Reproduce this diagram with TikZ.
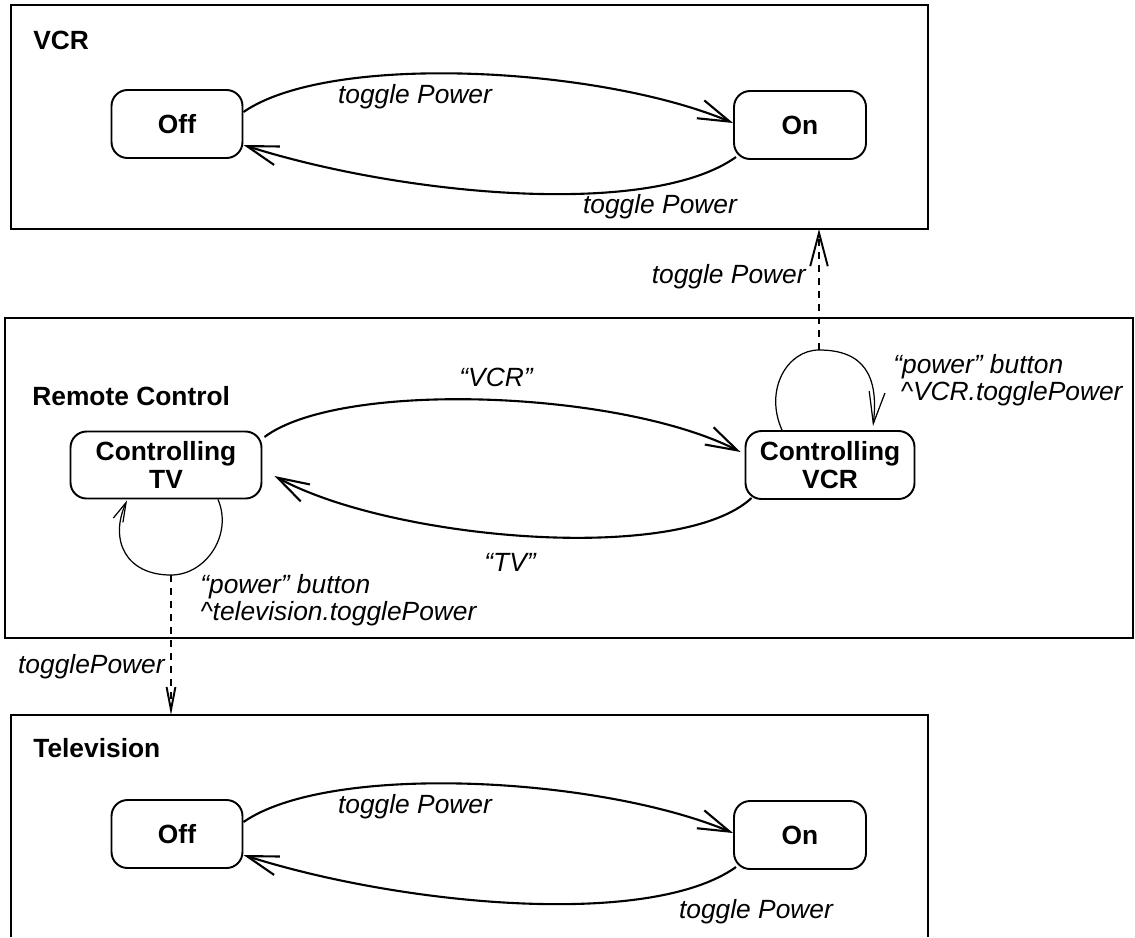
\documentclass[tikz,border=0pt]{standalone}
\usepackage{fontspec}
\setmainfont{Liberation Sans}
\usetikzlibrary{arrows.meta, calc, positioning}

\begin{document}
\begin{tikzpicture}[x=0.02cm, y=-0.02cm,
    state/.style={draw, line width=1.1pt, rounded corners=0.32cm, minimum height=1.36cm, inner sep=0pt, align=center, font=\bfseries\fontsize{15}{16}\selectfont},
    boxname/.style={anchor=west, inner sep=0pt, font=\bfseries\fontsize{15}{18}\selectfont},
    lbl/.style={inner sep=0pt, font=\itshape\fontsize{15}{15}\selectfont},
    trans/.style={line width=1.2pt, -{Straight Barb[length=18pt,width=11pt]}},
    selfloop/.style={line width=0.7pt},
    event/.style={dash pattern=on 4pt off 3.4pt, line width=1.1pt}]
    \useasboundingbox (0,0) rectangle (1135,937);

    \draw[line width=1.4pt] (11,5) rectangle (928,229);
    \draw[line width=1.4pt] (5,318) rectangle (1133,638);
    \draw[line width=1.4pt] (11,937) -- (11,715) -- (928,715) -- (928,937);

    \node[boxname] (vcrname) at (33,40) {VCR};
    \node[boxname] (remotename) at (32,396) {Remote Control};
    \node[boxname] (tvname) at (33,748) {Television};

    \node[state, minimum width=2.62cm] (vcroff) at (177,124) {Off};
    \node[state, minimum width=2.64cm] (vcron) at (800,125) {On};
    \node[state, minimum width=3.82cm, minimum height=1.34cm] (tvctl) at (166,465) {Controlling\\TV};
    \node[state, minimum width=3.38cm] (vcrctl) at (830,465) {Controlling\\VCR};
    \node[state, minimum width=2.62cm] (tvoff) at (177,834) {Off};
    \node[state, minimum width=2.64cm] (tvon) at (800,835) {On};

    \draw[trans] ($(vcroff.east)+(0,-12)$) .. controls +(87,-60) and +(-133,-56) .. ($(vcron.west)+(0,-2)$);
    \draw[trans] ($(vcron.west)+(3,32)$) .. controls +(-87,62) and +(157,50) .. ($(vcroff.east)+(0,21)$);
    \node[lbl] (vcrup) at (415,97) {toggle Power};
    \node[lbl] (vcrdown) at (660,207) {toggle Power};

    \draw[trans] ($(tvoff.east)+(0,-12)$) .. controls +(87,-60) and +(-133,-56) .. ($(tvon.west)+(0,-2)$);
    \draw[trans] ($(tvon.west)+(3,32)$) .. controls +(-87,62) and +(157,50) .. ($(tvoff.east)+(0,21)$);
    \node[lbl] (tvup) at (415,807) {toggle Power};
    \node[lbl] (tvdown) at (756,912) {toggle Power};

    \draw[trans] ($(tvctl.east)+(2,-28)$) .. controls +(76,-57) and +(-121,-62) .. ($(vcrctl.west)+(-4,-13)$);
    \draw[trans] ($(vcrctl.west)+(7,33)$) .. controls +(-72,67) and +(117,64) .. ($(tvctl.east)+(12,11)$);
    \node[lbl] (vcrsel) at (496,377) {“VCR”};
    \node[lbl] (tvsel) at (510,562) {“TV”};

    \coordinate (vcrtop) at (819,350);
    \coordinate (tvbot) at (171,575);
    \draw[selfloop, -{Straight Barb[length=18pt,width=9pt]}] ($(vcrctl.north)+(-48,0)$) .. controls +(-18,-40) and +(-32,0) .. (vcrtop) .. controls +(45,0) and +(6,-50) .. ($(vcrctl.north)+(43,-4)$);
    \draw[selfloop, -{Straight Barb[length=11pt,width=6pt]}] ($(tvctl.south)+(52,0)$) .. controls +(15,35) and +(35,0) .. (tvbot) .. controls +(-45,0) and +(-18,40) .. ($(tvctl.south)+(-39,1)$);
    \node[lbl, anchor=west, align=left] (vcraction) at (893,380) {“power” button\\\ \textasciicircum VCR.togglePower};
    \node[lbl, anchor=west, align=left] (tvaction) at (200,600) {“power” button\\\textasciicircum television.togglePower};

    \coordinate (vcrbox) at (819,229);
    \coordinate (tvbox) at (171,715);
    \draw[event, -{Straight Barb[length=19pt,width=10pt]}] (vcrtop) -- (vcrbox);
    \draw[event, -{Straight Barb[length=13pt,width=5pt]}] (tvbot) -- (tvbox);
    \node[lbl, anchor=east] (vcrevent) at (806,277) {toggle Power};
    \node[lbl, anchor=east] (tvevent) at (165,667) {togglePower};
\end{tikzpicture}
\end{document}
